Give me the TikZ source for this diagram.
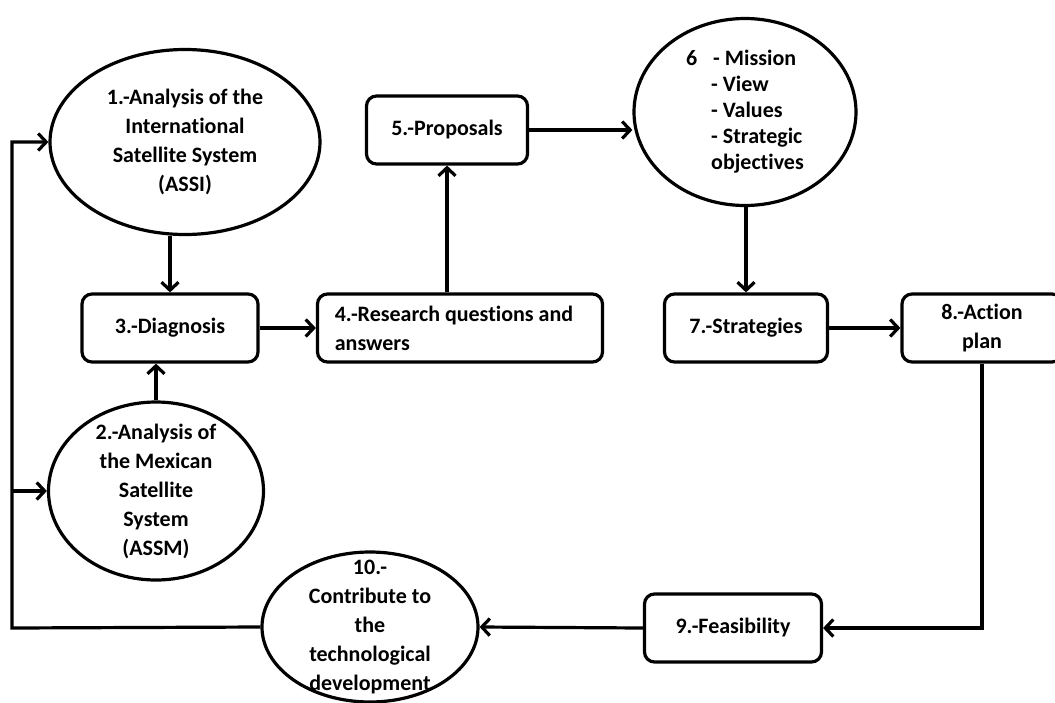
\documentclass[tikz,border=0pt]{standalone}
\usepackage{fontspec}
\setmainfont{Carlito}[Ligatures=NoCommon]
\usetikzlibrary{shapes.geometric,arrows.meta}

\begin{document}
\begin{tikzpicture}[x=1pt,y=-1pt,
  every node/.style={font=\fontsize{22}{29}\selectfont\bfseries},
  ell/.style={draw, ellipse, line width=3.2pt, inner xsep=0pt, inner ysep=-25pt, align=center},
  stepbox/.style={draw, rounded corners=10pt, line width=3.2pt, minimum height=68pt, align=center, inner sep=0pt},
  arr/.style={line width=3.2pt, -{Straight Barb[length=8pt,width=17pt,line width=3.2pt]}}]
  \useasboundingbox (0,0) rectangle (1055,702);
  \node[ell, minimum width=270pt, minimum height=185pt] (ana1) at (185,142)
    {1.-Analysis of the\\International\\Satellite System\\(ASSI)};
  \node[ell, minimum width=215pt, minimum height=178pt] (ana2) at (156,491)
    {2.-Analysis of\\the Mexican\\Satellite\\System\\(ASSM)};
  \node[ell, minimum width=216pt, minimum height=150pt] (contr) at (370,627)
    {10.-\\Contribute to\\the\\technological\\development};
  \node[ell, minimum width=222pt, minimum height=187pt, align=left,
    font=\fontsize{22}{26}\selectfont\bfseries] (miss) at (745,112)
    {\makebox[27pt][l]{6}- Mission\\\hspace*{25pt}- View\\\hspace*{25pt}- Values\\
     \hspace*{25pt}- Strategic\\\hspace*{25pt}objectives};
  \node[stepbox, minimum width=176pt] (diag) at (170,328) {3.-Diagnosis};
  \node[stepbox, minimum width=285pt, align=left] (quest) at (460,328)
    {4.-Research questions and\hspace*{12pt}\\answers};
  \node[stepbox, minimum width=161pt] (prop) at (447,130) {5.-Proposals};
  \node[stepbox, minimum width=163pt] (strat) at (746,328) {7.-Strategies};
  \node[stepbox, minimum width=160pt] (plan) at (982,328) {8.-Action\\plan};
  \node[stepbox, minimum width=177pt] (feas) at (733,628) {9.-Feasibility};
  \coordinate (fb) at (12,628);
  \draw[arr] (diag.north |- ana1.south) -- (diag.north);
  \draw[arr] (ana2.north) -- (ana2.north |- diag.south);
  \draw[arr] (diag.east) -- (quest.west);
  \draw[arr] (prop.south |- quest.north) -- (prop.south);
  \draw[arr] (prop.east) -- (prop.east -| miss.west);
  \draw[arr] (strat.north |- miss.south) -- (strat.north);
  \draw[arr] (strat.east) -- (plan.west);
  \draw[arr] (plan.south) -- (plan.south |- feas.east) -- (feas.east);
  \draw[arr] (feas.west) -- (contr.east);
  \draw[arr] (contr.west) -- (fb) -- (fb |- ana1.west) -- (ana1.west);
  \draw[arr] (fb |- ana2.west) -- (ana2.west);
\end{tikzpicture}
\end{document}
